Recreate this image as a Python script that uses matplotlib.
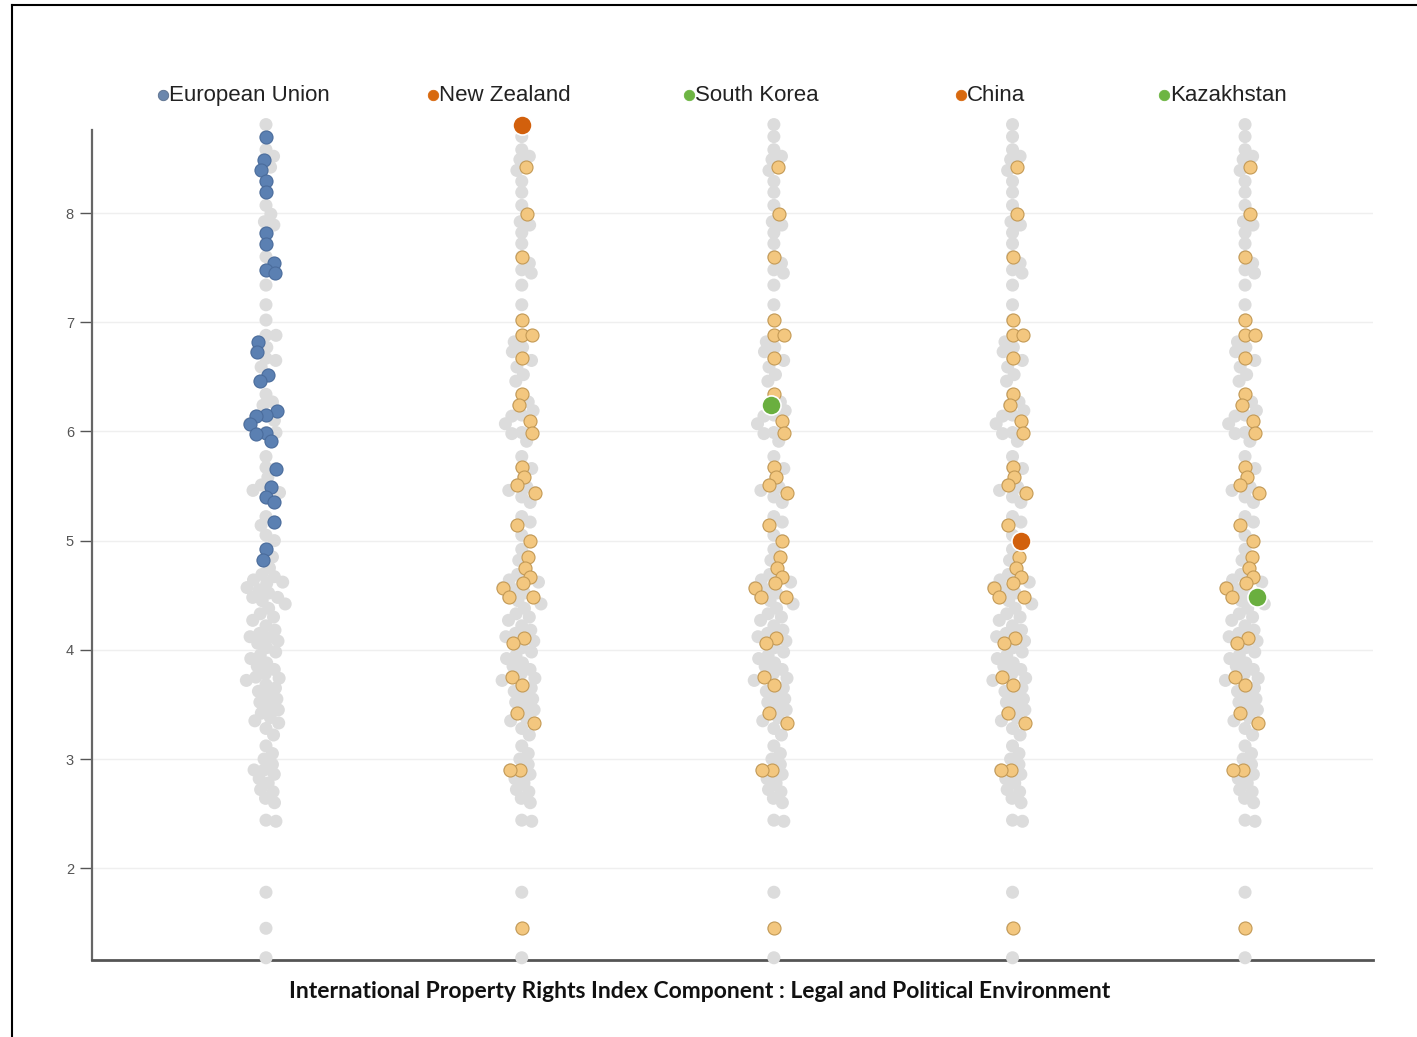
import numpy as np
import matplotlib.pyplot as plt
from matplotlib.lines import Line2D

# Config
groups = ["European Union", "New Zealand", "South Korea", "China", "Kazakhstan"]
legend_colors = ["#6b87ad", "#d8690f", "#6db543", "#d8690f", "#6db543"]

# scores of EU members (blue in first column)
eu_scores = [8.70, 8.49, 8.39, 8.29, 8.19, 7.82, 7.72, 7.54, 7.48, 7.45,
             6.82, 6.73, 6.52, 6.46, 6.19, 6.15, 6.14, 6.07, 5.99, 5.98,
             5.91, 5.66, 5.49, 5.40, 5.35, 5.17, 4.92, 4.82]

# scores of the Asian group (tan in the other columns)
asia_scores = [8.42, 7.99, 7.60, 7.02, 6.88, 6.88, 6.67, 6.34, 6.24, 6.10,
               5.99, 5.67, 5.58, 5.51, 5.44, 5.14, 5.00, 4.85, 4.75, 4.67,
               4.61, 4.57, 4.48, 4.48, 4.11, 4.06, 3.75, 3.68, 3.42, 3.33,
               2.90, 2.90, 1.45]

# the rest of the countries (grey only)
other_scores = [8.58, 8.52, 8.07, 7.92, 7.89, 7.34, 7.16, 6.77, 6.65, 6.59,
                6.27, 5.77, 5.46, 5.22, 5.05, 4.69, 4.64,
                4.62, 4.55, 4.52, 4.45, 4.42, 4.38, 4.33, 4.30, 4.27, 4.22,
                4.18, 4.15, 4.12, 4.08, 4.02, 3.98, 3.95, 3.92, 3.88, 3.85,
                3.82, 3.78, 3.74, 3.72, 3.65, 3.62, 3.58, 3.55, 3.52, 3.48,
                3.45, 3.38, 3.35, 3.28, 3.22,
                3.12, 3.05, 3.00, 2.95, 2.86, 2.82, 2.78, 2.72, 2.70, 2.64,
                2.60, 2.44, 2.43, 1.78, 1.18]

# highlighted country in each column (after the EU one)
highlight_scores = [8.81, 6.24, 5.00, 4.48]
highlight_colors = ["#d2600c", "#6aaf3f", "#d2600c", "#6aaf3f"]

title = "International Property Rights Index Component : Legal and Political Environment"

GREY = "#dcdcdc"
BLUE = "#5b80b2"
TAN = "#f3c77f"


def swarm(yp, d):
    # simple beeswarm: offsets (pixels) so dots do not overlap
    order = np.argsort(-yp, kind="stable")
    xs = np.zeros(len(yp))
    placed = []
    for i in order:
        y = yp[i]
        near = [j for j in placed if abs(yp[j] - y) < d]
        cands = [0.0]
        for j in near:
            dx = np.sqrt(d * d - (yp[j] - y) ** 2)
            cands += [xs[j] + dx, xs[j] - dx]
        cands.sort(key=abs)
        for c in cands:
            if all((xs[j] - c) ** 2 + (yp[j] - y) ** 2 >= d * d - 1e-6 for j in near):
                xs[i] = c
                break
        placed.append(i)
    return xs


def main():
    plt.rcParams['font.family'] = ['Liberation Sans', 'DejaVu Sans']
    fig = plt.figure(figsize=(14.17, 10.37), dpi=100)
    ax = fig.add_axes([0.0649, 0.0743, 0.9041, 0.8003])
    ax.set_ylim(1.16, 8.76)
    ax.set_xlim(-0.711, 4.523)

    # column centres (slightly uneven, like the original)
    col_pos = [0.0, 1.045, 2.075, 3.05, 4.0]

    all_scores = np.array(eu_scores + asia_scores + other_scores + [highlight_scores[0]])
    n_eu = len(eu_scores)
    n_as = len(asia_scores)
    is_eu = np.zeros(len(all_scores), bool)
    is_eu[:n_eu] = True
    is_as = np.zeros(len(all_scores), bool)
    is_as[n_eu:n_eu + n_as] = True

    # pixel scale from the axes
    t = ax.transData
    py_unit = t.transform((0, 1))[1] - t.transform((0, 0))[1]
    px_unit = t.transform((1, 0))[0] - t.transform((0, 0))[0]
    offs = swarm(all_scores * py_unit, 10.0) / px_unit

    # which point is the highlighted country (right-most if tied)
    hl_idx = []
    for k, s in enumerate(highlight_scores):
        if k == 0:
            hl_idx.append(len(all_scores) - 1)
        else:
            cand = np.where(is_as & np.isclose(all_scores, s))[0]
            hl_idx.append(cand[np.argmax(offs[cand])])

    dot = 88
    for g in range(len(groups)):
        xg = col_pos[g] + offs
        ax.scatter(xg, all_scores, s=dot, color=GREY, edgecolor="none", zorder=3, clip_on=False)
        if g == 0:
            m = is_eu
            ax.scatter(xg[m], all_scores[m], s=dot, color=BLUE, edgecolor="#4a6c9c",
                       linewidth=0.8, zorder=4, clip_on=False)
        else:
            m = is_as
            ax.scatter(xg[m], all_scores[m], s=dot, color=TAN, edgecolor="#c49a55",
                       linewidth=0.8, zorder=4, clip_on=False)
            i = hl_idx[g - 1]
            ax.scatter([xg[i]], [all_scores[i]], s=190, color=highlight_colors[g - 1],
                       edgecolor="white", linewidth=1.2, zorder=5, clip_on=False)

    # axes styling
    ax.set_yticks([2, 3, 4, 5, 6, 7, 8])
    ax.set_xticks([])
    ax.yaxis.grid(True, color="#efefef", linewidth=1)
    ax.set_axisbelow(True)
    ax.tick_params(axis="y", length=9, width=1, color="#555555",
                   labelsize=10.5, labelcolor="#555555", pad=4)
    for s in ["top", "right"]:
        ax.spines[s].set_visible(False)
    ax.spines["left"].set_color("#666666")
    ax.spines["left"].set_linewidth(1.6)
    ax.spines["left"].set_linestyle((0, (3, 1)))
    ax.spines["bottom"].set_color("#555555")
    ax.spines["bottom"].set_linewidth(2)

    # column labels with coloured dot
    labels = []
    for g, name in enumerate(groups):
        txt = ax.annotate(name, xy=(col_pos[g], 1), xycoords=("data", "axes fraction"),
                          xytext=(-12, 25), textcoords="offset points",
                          ha="center", va="center", fontsize=16, color="#222222")
        labels.append(txt)
    fig.canvas.draw()
    inv = fig.transFigure.inverted()
    for g, txt in enumerate(labels):
        bb = txt.get_window_extent()
        xm, ym = inv.transform((bb.x0 - 6, (bb.y0 + bb.y1) / 2))
        fig.add_artist(Line2D([xm], [ym], marker="o", markersize=7.5,
                              color=legend_colors[g], markeredgecolor="#5a6f8c" if g == 0 else legend_colors[g],
                              markeredgewidth=0.6, linestyle="none"))

    fig.text(700 / 1417, 1 - 991 / 1037, title, ha="center", va="center",
             fontsize=16.5, fontweight="bold", family=["Lato", "DejaVu Sans"], color="#111111")

    # outer frame (top and left only)
    fig.add_artist(Line2D([12 / 1417, 12 / 1417], [0, 1 - 5 / 1037], color="black", linewidth=1.5))
    fig.add_artist(Line2D([12 / 1417, 1], [1 - 5 / 1037, 1 - 5 / 1037], color="black", linewidth=1.5))

    fig.savefig("out.png", dpi=100)


if __name__ == "__main__":
    main()
